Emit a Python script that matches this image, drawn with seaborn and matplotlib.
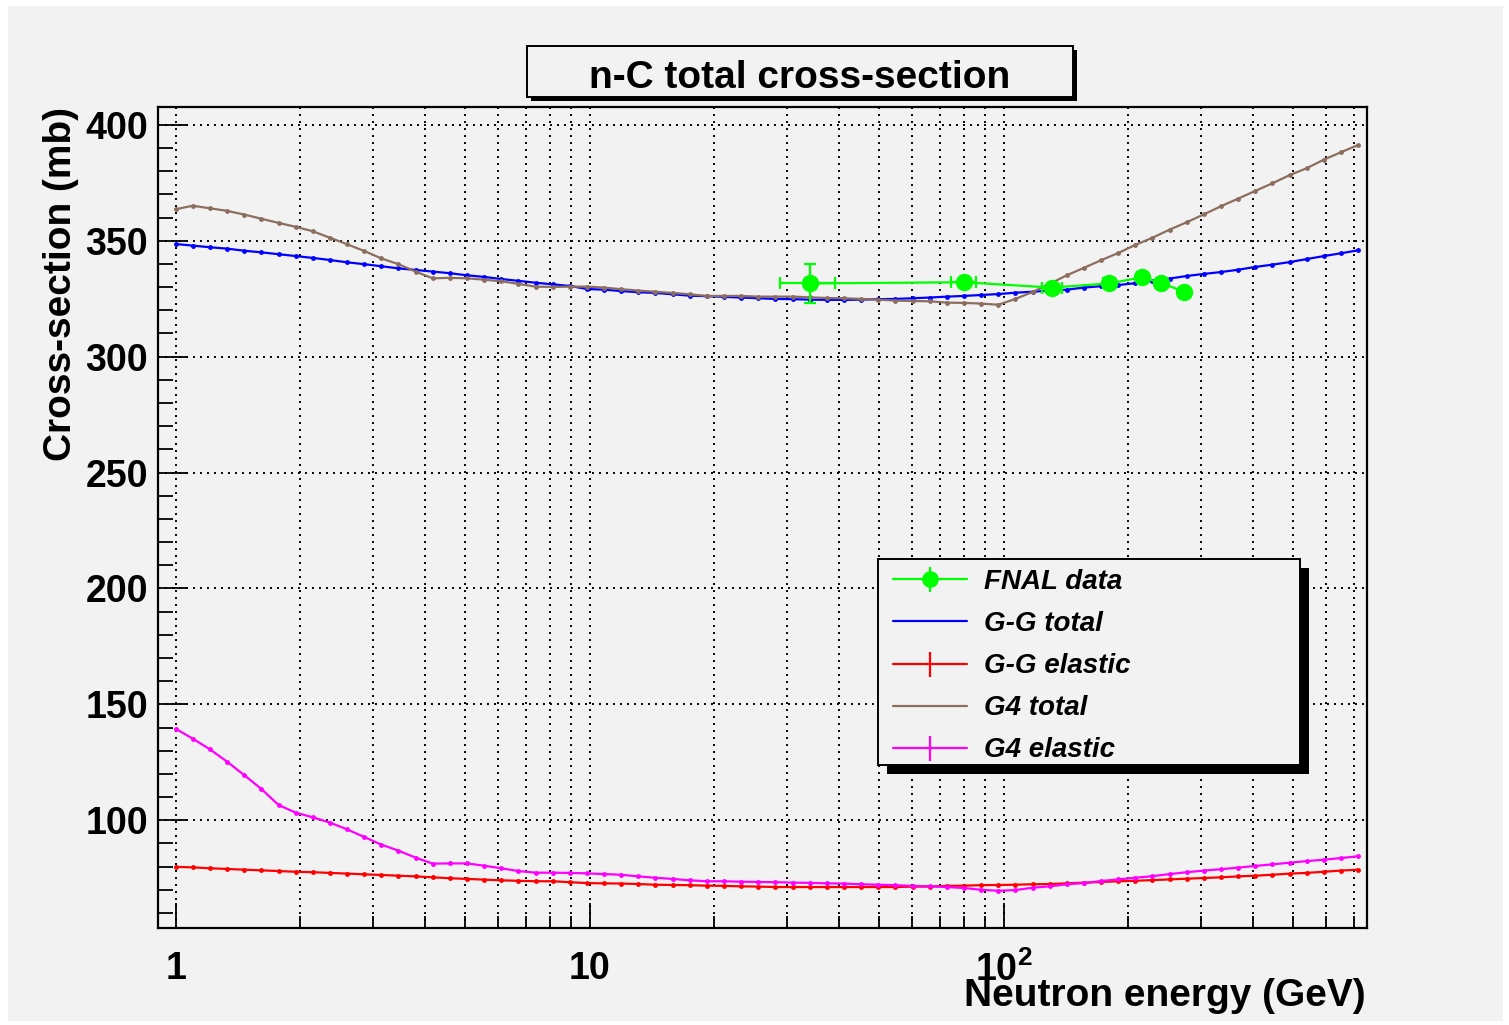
import pandas as pd
import matplotlib
matplotlib.use("Agg")
import matplotlib.pyplot as plt
from matplotlib.patches import Rectangle
from matplotlib.lines import Line2D
from matplotlib.ticker import FixedLocator, FixedFormatter, MultipleLocator, NullFormatter
import seaborn as sns

# neutron energy grid (GeV) of the model curves
energy = [
    1.000, 1.100, 1.210, 1.331, 1.464, 1.611, 1.772, 1.949, 2.144, 2.358,
    2.594, 2.853, 3.138, 3.452, 3.797, 4.177, 4.595, 5.054, 5.560, 6.116,
    6.727, 7.400, 8.140, 8.954, 9.850, 10.83, 11.92, 13.11, 14.42, 15.86,
    17.45, 19.19, 21.11, 23.23, 25.55, 28.10, 30.91, 34.00, 37.40, 41.14,
    45.26, 49.79, 54.76, 60.24, 66.26, 72.89, 80.18, 88.20, 97.02, 106.7,
    117.4, 129.1, 142.0, 156.2, 171.8, 189.0, 207.9, 228.7, 251.6, 276.8,
    304.5, 334.9, 368.4, 405.2, 445.8, 490.4, 539.4, 593.4, 652.7, 718.0,
]

gg_total = [
    348.6, 347.9, 347.2, 346.6, 345.7, 345.0, 344.2, 343.4, 342.6, 341.7,
    340.7, 339.9, 339.0, 338.1, 337.4, 336.7, 336.0, 335.1, 334.4, 333.5,
    332.7, 331.9, 331.2, 330.5, 329.2, 328.9, 328.3, 327.8, 327.5, 326.9,
    326.3, 326.1, 325.8, 325.5, 325.2, 324.9, 324.8, 324.6, 324.5, 324.5,
    324.6, 324.8, 324.9, 325.2, 325.5, 325.9, 326.2, 326.6, 327.0, 327.6,
    328.0, 328.5, 328.9, 329.8, 330.4, 330.9, 331.7, 332.8, 333.7, 334.8,
    335.7, 336.5, 337.5, 338.7, 339.7, 340.8, 342.1, 343.4, 344.6, 345.9,
]

g4_total = [
    363.6, 365.1, 364.0, 362.9, 361.3, 359.5, 357.7, 356.0, 354.1, 351.3,
    348.5, 345.6, 342.4, 339.9, 336.7, 333.8, 334.0, 333.8, 333.2, 332.5,
    331.4, 330.2, 330.1, 330.2, 330.2, 329.8, 329.1, 328.5, 328.0, 327.5,
    326.9, 326.2, 326.2, 326.2, 325.9, 325.9, 325.9, 325.6, 325.3, 325.2,
    324.9, 324.6, 324.2, 324.0, 323.9, 323.3, 323.2, 322.9, 322.4, 324.9,
    327.9, 331.4, 335.1, 338.3, 341.6, 344.7, 348.2, 351.3, 354.8, 358.0,
    361.4, 364.9, 368.2, 371.5, 374.8, 378.3, 381.3, 385.0, 388.2, 391.3,
]

gg_elastic = [
    79.9, 79.7, 79.3, 79.0, 78.7, 78.4, 78.1, 77.8, 77.6, 77.3,
    77.0, 76.7, 76.4, 76.1, 75.8, 75.4, 75.0, 74.7, 74.4, 74.1,
    73.9, 73.7, 73.7, 73.3, 72.9, 72.8, 72.7, 72.5, 72.2, 72.1,
    72.0, 71.8, 71.7, 71.5, 71.4, 71.2, 71.2, 71.2, 71.2, 71.2,
    71.2, 71.2, 71.2, 71.4, 71.4, 71.7, 71.8, 72.0, 72.1, 72.2,
    72.4, 72.5, 72.8, 73.1, 73.4, 73.7, 73.9, 74.2, 74.5, 74.8,
    75.1, 75.4, 75.8, 76.1, 76.5, 77.0, 77.3, 77.8, 78.3, 78.7,
]

g4_elastic = [
    139.5, 135.2, 130.6, 125.3, 119.5, 113.5, 106.6, 103.3, 101.3, 99.0,
    96.1, 92.8, 89.5, 86.9, 83.9, 81.3, 81.4, 81.4, 80.4, 79.3,
    78.1, 77.4, 77.4, 77.3, 77.1, 76.8, 76.5, 75.8, 75.2, 74.7,
    74.1, 73.7, 73.7, 73.5, 73.4, 73.3, 73.1, 73.0, 72.8, 72.7,
    72.4, 72.2, 72.0, 71.7, 71.5, 71.2, 70.8, 70.0, 69.6, 69.9,
    70.9, 71.5, 72.4, 72.9, 73.8, 74.5, 75.2, 75.9, 76.8, 77.6,
    78.3, 78.9, 79.6, 80.3, 81.0, 81.7, 82.4, 83.0, 83.7, 84.5,
]

# FNAL measurements
fnal_energy = [34.0, 80.2, 131.0, 179.9, 215.4, 239.9, 273.2]
fnal_xs = [331.6, 332.1, 329.8, 331.6, 334.2, 331.9, 327.9]
fnal_energy_err = [5.2, 5.7, 7.0, 6.0, 6.0, 6.0, 6.0]
fnal_xs_err = [8.5, 1.5, 1.5, 1.5, 1.5, 1.5, 1.5]

series_names = ["G-G total", "G4 total", "G-G elastic", "G4 elastic"]
colors = {"G-G total": "#0000ff", "G4 total": "#8c6e5f",
          "G-G elastic": "#ff0000", "G4 elastic": "#ff00ff"}
GREEN = "#00ff00"
BG = "#f2f2f2"

df = pd.concat([
    pd.DataFrame({"energy": energy, "xs": gg_total, "series": "G-G total"}),
    pd.DataFrame({"energy": energy, "xs": g4_total, "series": "G4 total"}),
    pd.DataFrame({"energy": energy, "xs": gg_elastic, "series": "G-G elastic"}),
    pd.DataFrame({"energy": energy, "xs": g4_elastic, "series": "G4 elastic"}),
])

sns.set_style("ticks")
plt.rcParams["font.family"] = ["Liberation Sans", "DejaVu Sans"]
plt.rcParams["font.weight"] = "bold"
plt.rcParams["text.color"] = "black"
plt.rcParams["axes.labelcolor"] = "black"
plt.rcParams["xtick.color"] = "black"
plt.rcParams["ytick.color"] = "black"
plt.rcParams["mathtext.fontset"] = "custom"
plt.rcParams["mathtext.rm"] = "Liberation Sans:bold"
plt.rcParams["mathtext.it"] = "Liberation Sans:bold:italic"
plt.rcParams["mathtext.bf"] = "Liberation Sans:bold"

W, H = 1509, 1025
fig = plt.figure(figsize=(W / 100, H / 100), dpi=100, facecolor="white")


def fig_rect(x0, y0, x1, y1):
    # pixel box (top-left origin) -> figure fraction
    return (x0 / W, 1 - y1 / H), (x1 - x0) / W, (y1 - y0) / H


# grey canvas
xy, w, h = fig_rect(8, 6, 1503, 1021)
fig.patches.append(Rectangle(xy, w, h, transform=fig.transFigure,
                             facecolor=BG, edgecolor="none", zorder=-1))

ax = fig.add_axes([157.5 / W, 1 - 927.5 / H, (1366.5 - 157.5) / W, (927.5 - 107) / H])
ax.set_facecolor(BG)

sns.lineplot(data=df, x="energy", y="xs", hue="series", hue_order=series_names,
             palette=colors, marker="o", markersize=3.5, markeredgewidth=0,
             linewidth=1.6, errorbar=None, legend=False, ax=ax)

ax.errorbar(fnal_energy, fnal_xs, xerr=fnal_energy_err, yerr=fnal_xs_err,
            fmt="o-", color=GREEN, markersize=11.5, linewidth=1.6,
            elinewidth=1.6, capsize=4, capthick=1.6, zorder=4)

ax.set_xscale("log")
ax.set_xlim(0.904, 752)
ax.set_ylim(53.75, 407.7)
ax.set_xlabel("")
ax.set_ylabel("")

ax.xaxis.set_major_locator(FixedLocator([1, 10, 100]))
ax.xaxis.set_major_formatter(FixedFormatter(["1", "10", r"$10^{2}$"]))
ax.xaxis.set_minor_locator(FixedLocator([2, 3, 4, 5, 6, 7, 8, 9,
                                         20, 30, 40, 50, 60, 70, 80, 90,
                                         200, 300, 400, 500, 600, 700]))
ax.xaxis.set_minor_formatter(NullFormatter())
ax.yaxis.set_major_locator(MultipleLocator(50))
ax.yaxis.set_minor_locator(MultipleLocator(10))

ax.tick_params(axis="both", which="both", direction="in", top=False, right=False,
               colors="black", labelcolor="black", width=1.3, labelsize=27)
ax.tick_params(axis="x", which="major", length=18, pad=17)
ax.tick_params(axis="x", which="minor", length=8.5)
ax.tick_params(axis="y", which="major", length=21.5, pad=7)
ax.tick_params(axis="y", which="minor", length=10.8)
for lab in ax.get_xticklabels() + ax.get_yticklabels():
    lab.set_fontweight("bold")

ax.set_axisbelow(True)
ax.grid(True, which="both", axis="x", color="black", linestyle=(0, (1, 2.6)), linewidth=1.4)
ax.grid(True, which="major", axis="y", color="black", linestyle=(0, (1, 2.6)), linewidth=1.4)
for sp in ax.spines.values():
    sp.set_visible(True)
    sp.set_color("black")
    sp.set_linewidth(1.6)

# axis titles
fig.text(61 / W, 1 - 107 / H, "Cross-section (mb)", rotation=90, ha="center",
         va="top", fontsize=28, fontweight="bold", color="black")
fig.text(1366 / W, 1 - 1006 / H, "Neutron energy (GeV)", ha="right",
         va="baseline", fontsize=28, fontweight="bold", color="black")

# title box with shadow
xy, w, h = fig_rect(531, 50, 1077, 101)
fig.patches.append(Rectangle(xy, w, h, transform=fig.transFigure,
                             facecolor="black", edgecolor="none", zorder=1))
xy, w, h = fig_rect(527, 46, 1073, 97)
fig.patches.append(Rectangle(xy, w, h, transform=fig.transFigure,
                             facecolor=BG, edgecolor="black", linewidth=1.4, zorder=2))
fig.text(800 / W, 1 - 88 / H, "n-C total cross-section", ha="center", va="baseline",
         fontsize=28, fontweight="bold", color="black", zorder=3)

# legend box with shadow
xy, w, h = fig_rect(887, 568, 1309, 774)
fig.patches.append(Rectangle(xy, w, h, transform=fig.transFigure,
                             facecolor="black", edgecolor="none", zorder=3))
xy, w, h = fig_rect(878, 559, 1300, 765)
fig.patches.append(Rectangle(xy, w, h, transform=fig.transFigure,
                             facecolor=BG, edgecolor="black", linewidth=1.4, zorder=4))

h_fnal = (Line2D([], [], color=GREEN, lw=1.6),
          Line2D([], [], color=GREEN, marker="|", markersize=18, mew=1.6, lw=0),
          Line2D([], [], color=GREEN, marker="o", markersize=11, lw=0))
h_ggt = Line2D([], [], color=colors["G-G total"], lw=1.6)
h_gge = (Line2D([], [], color=colors["G-G elastic"], lw=1.6),
         Line2D([], [], color=colors["G-G elastic"], marker="|", markersize=18, mew=1.6, lw=0))
h_g4t = Line2D([], [], color=colors["G4 total"], lw=1.6)
h_g4e = (Line2D([], [], color=colors["G4 elastic"], lw=1.6),
         Line2D([], [], color=colors["G4 elastic"], marker="|", markersize=18, mew=1.6, lw=0))

leg = fig.legend([h_fnal, h_ggt, h_gge, h_g4t, h_g4e],
                 ["FNAL data", "G-G total", "G-G elastic", "G4 total", "G4 elastic"],
                 loc="upper left", bbox_to_anchor=(893 / W, 1 - 569 / H),
                 bbox_transform=fig.transFigure, frameon=False, borderpad=0,
                 borderaxespad=0, handlelength=74 / 27.8, handletextpad=17 / 27.8,
                 labelspacing=0.58, numpoints=1, labelcolor="black",
                 prop={"family": "Liberation Sans", "weight": "bold",
                       "style": "italic", "size": 20})
leg.set_zorder(6)

fig.savefig("out.png", dpi=100, facecolor=fig.get_facecolor())
